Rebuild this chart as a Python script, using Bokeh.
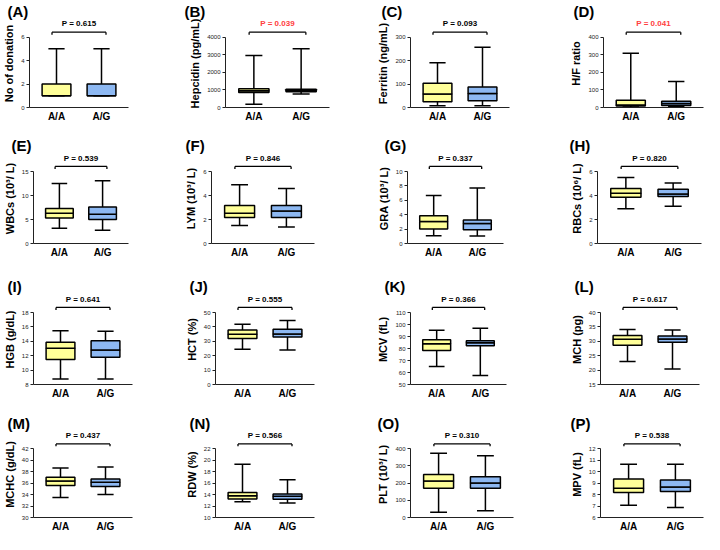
from bokeh.plotting import figure
from bokeh.models import Range1d, FactorRange, FixedTicker, ColumnDataSource
from bokeh.layouts import column, row
from bokeh.transform import dodge
from bokeh.core.properties import value
from bokeh.embed import file_html
from bokeh.resources import INLINE

# ---------------- data ----------------
groups = ["A/A", "A/G"]
box_colors = ["#FFFF99", "#8DB8F2"]

panel_tags = ["(A)", "(B)", "(C)", "(D)", "(E)", "(F)", "(G)", "(H)",
              "(I)", "(J)", "(K)", "(L)", "(M)", "(N)", "(O)", "(P)"]
y_labels = ["No of donation", "Hepcidin (pg/mL)", "Ferritin (ng/mL)", "H/F ratio",
            "WBCs (10³/ L)", "LYM (10³/ L)", "GRA (10³/ L)", "RBCs (10⁶/ L)",
            "HGB (g/dL)", "HCT (%)", "MCV (fL)", "MCH (pg)",
            "MCHC (g/dL)", "RDW (%)", "PLT (10³/ L)", "MPV (fL)"]
p_values = ["0.615", "0.039", "0.093", "0.041", "0.539", "0.846", "0.337", "0.820",
            "0.641", "0.555", "0.366", "0.617", "0.437", "0.566", "0.310", "0.538"]
p_significant = [False, True, False, True, False, False, False, False,
                 False, False, False, False, False, False, False, False]
y_ticks = [[0, 2, 4, 6], [0, 1000, 2000, 3000, 4000], [0, 100, 200, 300], [0, 100, 200, 300, 400],
           [0, 5, 10, 15], [0, 2, 4, 6], [0, 2, 4, 6, 8, 10], [0, 2, 4, 6],
           [8, 10, 12, 14, 16, 18], [0, 10, 20, 30, 40, 50], [50, 60, 70, 80, 90, 100, 110],
           [15, 20, 25, 30, 35, 40],
           [30, 32, 34, 36, 38, 40, 42], [10, 12, 14, 16, 18, 20, 22], [0, 100, 200, 300, 400],
           [6, 7, 8, 9, 10, 11, 12]]

# min, Q1, median, Q3, max
aa_stats = [
    [1, 1, 1, 2, 5],
    [180, 850, 950, 1070, 2950],
    [7, 24, 57, 103, 191],
    [3, 9, 14, 41, 308],
    [3.2, 5.3, 6.3, 7.3, 12.5],
    [1.5, 2.17, 2.52, 3.16, 4.9],
    [1.07, 2.0, 3.04, 3.84, 6.65],
    [2.9, 3.86, 4.18, 4.58, 5.49],
    [8.76, 11.47, 13.02, 13.87, 15.47],
    [24.4, 32.0, 34.9, 37.8, 41.8],
    [64.9, 78.3, 83.9, 87.3, 95.3],
    [23.0, 28.6, 30.7, 32.0, 34.1],
    [33.5, 35.57, 36.37, 37.0, 38.65],
    [12.76, 13.24, 13.8, 14.35, 19.3],
    [30, 170, 212, 250, 373],
    [7.06, 8.18, 8.55, 9.35, 10.65],
]
ag_stats = [
    [1, 1, 1, 2, 5],
    [760, 890, 960, 1030, 3340],
    [7, 29, 60, 87, 257],
    [5, 12, 23, 36, 148],
    [2.75, 5.0, 6.1, 7.6, 13.05],
    [1.37, 2.17, 2.71, 3.16, 4.58],
    [1.03, 1.92, 2.77, 3.26, 7.72],
    [3.1, 3.91, 4.13, 4.53, 5.04],
    [8.76, 11.78, 12.8, 14.09, 15.38],
    [24.0, 32.9, 35.1, 38.4, 44.4],
    [57.5, 82.3, 84.7, 86.5, 96.9],
    [20.4, 29.7, 30.8, 31.8, 33.9],
    [34.0, 35.4, 36.16, 36.7, 38.8],
    [12.55, 13.2, 13.7, 14.1, 16.6],
    [39, 170, 200, 237, 359],
    [6.88, 8.26, 8.66, 9.27, 10.65],
]

# ---------------- layout ----------------
FONT = "Liberation Sans"
col_widths = [182, 192, 193, 137]
row_heights = [134, 133, 134, 133]
row_tops = [17, 19, 27, 30]
frame_h = 90
frame_w = 104
left_borders = [24, 43, 31, 32,
                24, 28, 25, 30,
                28, 28, 28, 28,
                28, 28, 35, 32]


def make_panel(i, r, c):
    lo, hi = y_ticks[i][0], y_ticks[i][-1]
    span = hi - lo
    L = left_borders[i]
    W = col_widths[c]
    H = row_heights[r]
    T = row_tops[r]
    p = figure(width=W, height=H,
               x_range=FactorRange(*groups, range_padding=0.1),
               y_range=Range1d(lo, hi + 0.25 * span),
               output_backend="svg", toolbar_location=None,
               min_border_left=L, min_border_right=W - L - frame_w,
               min_border_top=T, min_border_bottom=H - T - frame_h,
               title=panel_tags[i])
    p.outline_line_color = None
    p.xgrid.visible = False
    p.ygrid.visible = False

    p.title.align = "left"
    p.title.offset = 2 - L
    p.title.standoff = 0
    p.title.text_font = FONT
    p.title.text_font_size = "15px"
    p.title.text_font_style = "bold"
    p.title.text_color = "black"

    aa, ag = aa_stats[i], ag_stats[i]
    src = ColumnDataSource(dict(
        x=groups,
        lo=[aa[0], ag[0]], q1=[aa[1], ag[1]], med=[aa[2], ag[2]],
        q3=[aa[3], ag[3]], hi=[aa[4], ag[4]], fill=box_colors))
    lw = 1.5
    p.segment(x0="x", y0="lo", x1="x", y1="q1", source=src, line_color="black", line_width=lw)
    p.segment(x0="x", y0="q3", x1="x", y1="hi", source=src, line_color="black", line_width=lw)
    for f in ("lo", "hi"):
        p.segment(x0=dodge("x", -0.18, range=p.x_range), y0=f,
                  x1=dodge("x", 0.18, range=p.x_range), y1=f,
                  source=src, line_color="black", line_width=lw)
    p.vbar(x="x", width=0.64, bottom="q1", top="med", source=src,
           fill_color="fill", line_color="black", line_width=lw)
    p.vbar(x="x", width=0.64, bottom="med", top="q3", source=src,
           fill_color="fill", line_color="black", line_width=lw)

    # significance bracket + p-value
    bsrc = ColumnDataSource(dict(a=[groups[0]], b=[groups[1]],
                                 yb=[hi + 0.07 * span], yt=[hi + 0.035 * span],
                                 yp=[hi + 0.125 * span], t=["P = " + p_values[i]]))
    p.segment(x0=dodge("a", -0.1, range=p.x_range), y0="yb",
              x1=dodge("b", 0.1, range=p.x_range), y1="yb",
              source=bsrc, line_color="black", line_width=1.3)
    p.segment(x0=dodge("a", -0.1, range=p.x_range), y0="yb",
              x1=dodge("a", -0.1, range=p.x_range), y1="yt",
              source=bsrc, line_color="black", line_width=1.3)
    p.segment(x0=dodge("b", 0.1, range=p.x_range), y0="yb",
              x1=dodge("b", 0.1, range=p.x_range), y1="yt",
              source=bsrc, line_color="black", line_width=1.3)
    p.text(x=dodge("a", 0.5, range=p.x_range), y="yp", text="t", source=bsrc,
           text_align="center", text_baseline="bottom",
           text_font=value(FONT), text_font_style="bold", text_font_size="8px",
           text_color="#FF4040" if p_significant[i] else "black")

    yax = p.yaxis[0]
    yax.bounds = (lo, hi)
    yax.ticker = FixedTicker(ticks=y_ticks[i])
    yax.axis_label = y_labels[i]
    yax.axis_label_text_font = FONT
    yax.axis_label_text_font_style = "bold"
    yax.axis_label_text_font_size = "11px"
    yax.axis_label_text_color = "black"
    yax.axis_label_standoff = 3
    yax.major_label_text_font = FONT
    yax.major_label_text_font_size = "6px"
    yax.major_label_text_color = "#222222"
    yax.major_label_standoff = 2
    yax.major_tick_in = 0
    yax.major_tick_out = 3
    yax.minor_tick_line_color = None
    yax.axis_line_color = "#222222"
    yax.major_tick_line_color = "#222222"

    xax = p.xaxis[0]
    xax.major_tick_line_color = None
    xax.major_tick_in = 0
    xax.major_tick_out = 0
    xax.minor_tick_line_color = None
    xax.major_label_text_font = FONT
    xax.major_label_text_font_style = "bold"
    xax.major_label_text_font_size = "10px"
    xax.major_label_text_color = "black"
    xax.major_label_standoff = 3
    xax.axis_line_color = "#222222"
    return p


rows = []
for r in range(4):
    rows.append(row(*[make_panel(r * 4 + c, r, c) for c in range(4)]))
layout = column(*rows)

open("out.html", "w").write(file_html(layout, INLINE))
